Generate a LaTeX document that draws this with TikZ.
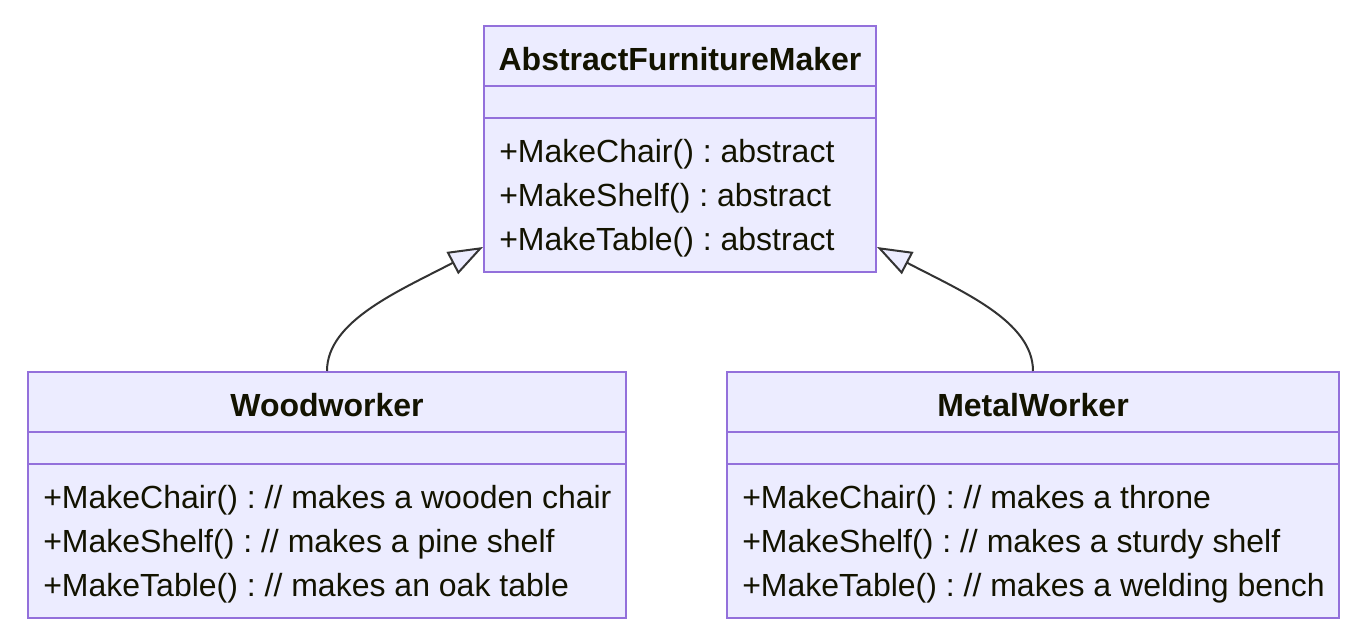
\documentclass[tikz,border=0pt]{standalone}
\usepackage{fontspec}
\setmainfont{Liberation Sans}
\usetikzlibrary{arrows.meta}
\frenchspacing
\definecolor{boxfill}{HTML}{ECECFF}
\definecolor{boxline}{HTML}{9370DB}
\definecolor{inktext}{HTML}{131300}
\definecolor{edgeline}{HTML}{333333}
\tikzset{
  classbox/.style={draw=boxline, fill=boxfill, line width=1.5pt, inner sep=0pt},
  divider/.style={draw=boxline, line width=1.5pt},
  classname/.style={anchor=base, inner sep=0pt, text=inktext, font=\fontsize{24pt}{28pt}\selectfont\bfseries},
  member/.style={anchor=base west, inner sep=0pt, text=inktext, font=\fontsize{24pt}{28pt}\selectfont},
  inherit/.style={draw=edgeline, line width=1.5pt,
    -{Triangle[length=26pt, width=18.5pt, fill=boxfill, line width=1.5pt]}}
}
\begin{document}
\begin{tikzpicture}[x=0.75pt, y=-0.75pt]
      \useasboundingbox (0,0) rectangle (1365,639);
      % abstract class on top
      \node[classbox, minimum width=294pt, minimum height=184.5pt] (maker) at (680,149) {};
      \draw[divider] (484,86) -- (876,86);
      \draw[divider] (484,118) -- (876,118);
      \node[classname] (makerName) at (680,70) {AbstractFurnitureMaker};
      \node[member] (maker1) at (499,162) {+MakeChair() : abstract};
      \node[member] (maker2) at (499,206) {+MakeShelf() : abstract};
      \node[member] (maker3) at (499,250) {+MakeTable() : abstract};
      % woodworker
      \node[classbox, minimum width=448.5pt, minimum height=184.5pt] (wood) at (327,495) {};
      \draw[divider] (28,432) -- (626,432);
      \draw[divider] (28,464) -- (626,464);
      \node[classname] (woodName) at (327,416) {Woodworker};
      \node[member] (wood1) at (43,508) {+MakeChair() : // makes a wooden chair};
      \node[member] (wood2) at (43,552) {+MakeShelf() : // makes a pine shelf};
      \node[member] (wood3) at (43,596) {+MakeTable() : // makes an oak table};
      % metalworker
      \node[classbox, minimum width=459pt, minimum height=184.5pt] (metal) at (1033,495) {};
      \draw[divider] (727,432) -- (1339,432);
      \draw[divider] (727,464) -- (1339,464);
      \node[classname] (metalName) at (1033,416) {MetalWorker};
      \node[member] (metal1) at (742,508) {+MakeChair() : // makes a throne};
      \node[member] (metal2) at (742,552) {+MakeShelf() : // makes a sturdy shelf};
      \node[member] (metal3) at (742,596) {+MakeTable() : // makes a welding bench};
      % inheritance
      \draw[inherit] (wood.north) .. controls +(0,-50) and +(-84,44) .. ([yshift=19.5pt]maker.south west);
      \draw[inherit] (metal.north) .. controls +(0,-50) and +(84,44) .. ([yshift=19.5pt]maker.south east);
    \end{tikzpicture}
\end{document}
